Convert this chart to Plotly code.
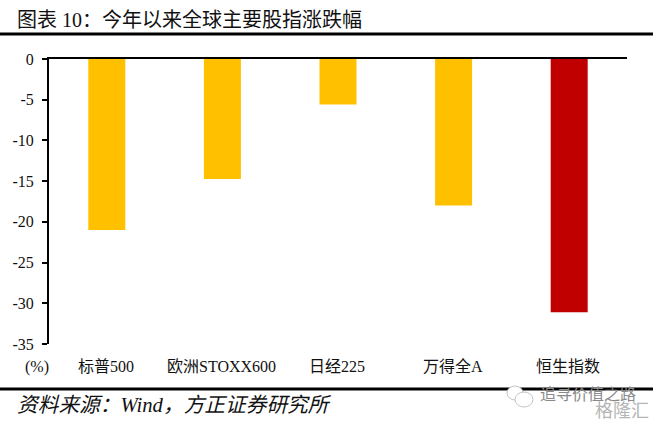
import plotly.graph_objects as go

categories = ["标普500", "欧洲STOXX600", "日经225", "万得全A", "恒生指数"]
values = [-21.0, -14.75, -5.6, -18.0, -31.1]
colors = ["#FFC000", "#FFC000", "#FFC000", "#FFC000", "#C00000"]
tick_vals = [0, -5, -10, -15, -20, -25, -30, -35]
tick_text = ["0", "-5", "-10", "-15", "-20", "-25", "-30", "-35"]
title_text = "图表 10\uff1a今年以来全球主要股指涨跌幅"
source_text = "资料来源\uff1aWind\uff0c方正证券研究所"
FONT = "Liberation Serif, Noto Sans CJK SC, serif"
W, H = 653, 425
L, R, T, B = 49, 627, 59, 344

def px(x): return (x - L) / (R - L)
def py(y): return (B - y) / (B - T)

def circle(x0, y0, x1, y1):
    return dict(type="circle", xref="paper", yref="paper", x0=px(x0), x1=px(x1), y0=py(y0), y1=py(y1),
                line=dict(color="#C4C4C4", width=1), fillcolor="white")

fig = go.Figure(go.Bar(x=categories, y=values, marker=dict(color=colors, line_width=0), width=0.32))
fig.update_layout(
    width=W, height=H, autosize=False,
    margin=dict(l=L, r=W - R, t=T, b=H - B),
    paper_bgcolor="white", plot_bgcolor="white", showlegend=False,
    font=dict(family=FONT, size=15, color="#111111"),
    xaxis=dict(side="top", showticklabels=False, ticks="", showline=True, linecolor="black",
               linewidth=2, showgrid=False, zeroline=False, fixedrange=True),
    yaxis=dict(range=[-35, 0], tickvals=tick_vals, ticktext=tick_text, ticks="outside", ticklen=5, tickwidth=2,
               tickcolor="black", showline=True, linecolor="black", linewidth=2, showgrid=False,
               zeroline=False, tickfont=dict(size=16), ticklabelstandoff=5),
    shapes=[
        dict(type="line", xref="paper", yref="paper", x0=px(0), x1=px(653), y0=py(34), y1=py(34),
             line=dict(color="black", width=3)),
        dict(type="line", xref="paper", yref="paper", x0=px(0), x1=px(653), y0=py(389), y1=py(389),
             line=dict(color="black", width=3)),
        circle(507, 386, 523, 400),
        circle(515, 392, 533, 407),
    ],
)

def note(x, y, text, size=15, color="#111111", anchor="left", italic=False):
    fig.add_annotation(xref="paper", yref="paper", x=px(x), y=py(y), text=f"<i>{text}</i>" if italic else text,
                       showarrow=False, xanchor=anchor, yanchor="middle",
                       font=dict(size=size, color=color, family=FONT))

note(15, 20, title_text, size=20)
note(15, 405, source_text, size=20.7, italic=True)
note(37, 367, "(%)", size=16, anchor="center")
for i, c in enumerate(categories):
    note(L + (R - L) / 5 * (i + 0.5) - 1, 366, c, size=16, anchor="center")
note(588, 394, "追寻价值之路", size=16, color="#8A8A8A", anchor="center")
note(622, 411, "格隆汇", size=18, color="#B5B5B5", anchor="center")

fig.write_html("out.html", config=dict(displayModeBar=False),
               post_script="document.body.style.margin='0';")
